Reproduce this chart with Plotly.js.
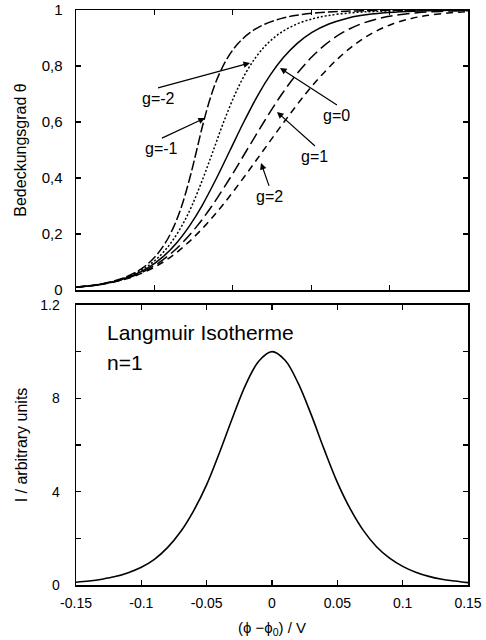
<!DOCTYPE html>
<html>
<head>
<meta charset="utf-8">
<script src="https://cdn.plot.ly/plotly-3.0.1.min.js"></script>
<style>html,body{margin:0;padding:0;background:#fff;}#chart{width:486px;height:640px;}</style>
</head>
<body>
<div id="chart"></div>
<script>
// Top panel: coverage theta (shared) and potential for each interaction parameter g
const theta = [0.01,0.02,0.03,0.05,0.08,0.12,0.17,0.23,0.3,0.4,0.5,0.6,0.7,0.77,0.83,0.88,0.92,0.95,0.97,0.98,0.99,0.995,0.998,0.999,0.9995,0.9999];
const xGm2 = [-0.1503,-0.1328,-0.1226,-0.1101,-0.0987,-0.0893,-0.0814,-0.0748,-0.0691,-0.0629,-0.0576,-0.0524,-0.0462,-0.0405,-0.0339,-0.0260,-0.0166,-0.0052,0.0074,0.0175,0.0350,0.0527,0.0761,0.0939,0.1116,0.1529];
const xGm1 = [-0.1501,-0.1323,-0.1219,-0.1088,-0.0967,-0.0862,-0.0771,-0.0689,-0.0614,-0.0527,-0.0448,-0.0370,-0.0282,-0.0207,-0.0126,-0.0035,0.0070,0.0191,0.0322,0.0427,0.0604,0.0782,0.1017,0.1195,0.1373,0.1786];
const xG0  = [-0.1498,-0.1318,-0.1211,-0.1075,-0.0946,-0.0831,-0.0727,-0.0630,-0.0537,-0.0424,-0.0320,-0.0216,-0.0103,-0.0010,0.0087,0.0191,0.0306,0.0435,0.0571,0.0678,0.0858,0.1037,0.1273,0.1451,0.1629,0.2042];
const xG1  = [-0.1495,-0.1313,-0.1203,-0.1062,-0.0925,-0.0800,-0.0683,-0.0571,-0.0460,-0.0321,-0.0192,-0.0062,0.0076,0.0187,0.0300,0.0417,0.0542,0.0679,0.0820,0.0929,0.1112,0.1292,0.1529,0.1707,0.1885,0.2298];
const xG2  = [-0.1493,-0.1308,-0.1196,-0.1049,-0.0905,-0.0769,-0.0640,-0.0512,-0.0383,-0.0219,-0.0064,0.0092,0.0256,0.0385,0.0513,0.0642,0.0778,0.0922,0.1068,0.1181,0.1366,0.1547,0.1785,0.1963,0.2142,0.2555];
const gLabels = ["g=-2","g=-1","g=0","g=1","g=2"];

// Bottom panel: Langmuir current peak
const potential = [-0.15,-0.14,-0.13,-0.12,-0.11,-0.10,-0.09,-0.08,-0.07,-0.06,-0.05,-0.04,-0.03,-0.02,-0.01,0,0.01,0.02,0.03,0.04,0.05,0.06,0.07,0.08,0.09,0.10,0.11,0.12,0.13,0.14,0.15];
const current = [0.12,0.17,0.25,0.36,0.53,0.76,1.1,1.6,2.28,3.18,4.3,5.7,7.2,8.6,9.6,10,9.63,8.65,7.3,5.8,4.4,3.25,2.33,1.64,1.15,0.8,0.55,0.37,0.25,0.17,0.1];

// Tick labels
const thetaTicks = [0,0.2,0.4,0.6,0.8,1];
const thetaTickText = ["0","0,2","0,4","0,6","0,8","1"];
const iTicks = [0,4,8,12];
const iTickText = ["0","4","8","1.2"];
const iMinorTicks = [2,6,10];
const potTicks = [-0.15,-0.1,-0.05,0,0.05,0.1,0.15];
const potTickText = ["-0.15","-0.1","-0.05","0","0.05","0.1","0.15"];

const font = "Liberation Sans, Arial, Helvetica, sans-serif";
const lw = 1.5;
const traces = [
  {x:xGm2, y:theta, mode:"lines", line:{color:"#000",width:lw,dash:"10px,3px",shape:"spline"}, xaxis:"x", yaxis:"y", name:gLabels[0]},
  {x:xGm1, y:theta, mode:"lines", line:{color:"#000",width:lw,dash:"2px,2px",shape:"spline"}, xaxis:"x", yaxis:"y", name:gLabels[1]},
  {x:xG0,  y:theta, mode:"lines", line:{color:"#000",width:lw,shape:"spline"}, xaxis:"x", yaxis:"y", name:gLabels[2]},
  {x:xG1,  y:theta, mode:"lines", line:{color:"#000",width:lw,dash:"12px,5px",shape:"spline"}, xaxis:"x", yaxis:"y", name:gLabels[3]},
  {x:xG2,  y:theta, mode:"lines", line:{color:"#000",width:lw,dash:"7px,5px",shape:"spline"}, xaxis:"x", yaxis:"y", name:gLabels[4]},
  {x:potential, y:current, mode:"lines", line:{color:"#000",width:1.6,shape:"spline"}, xaxis:"x2", yaxis:"y2", name:"Langmuir"}
];

const axBase = {showline:true, linecolor:"#000", linewidth:1.5, mirror:"ticks", ticks:"inside", ticklen:5, tickwidth:1.2, tickcolor:"#000", showgrid:false, zeroline:false, tickfont:{family:font,size:14,color:"#000"}};

// labels with arrows: arrow head at data point, label hangs below the arrow tail (px offset)
const arrowHeads = [[-0.0168,0.811],[-0.0513,0.614],[0.0061,0.793],[0.0038,0.636],[-0.0084,0.454]];
const tailOffsets = [[-92,25],[-43,20],[57,37],[38,34],[8,23]];
const annotations = [];
arrowHeads.forEach(function(a,i){
  annotations.push({xref:"x",yref:"y",x:a[0],y:a[1],ax:tailOffsets[i][0],ay:tailOffsets[i][1],
    text:gLabels[i],xanchor:"center",yanchor:"top",showarrow:true,arrowhead:2,arrowsize:1.1,arrowwidth:1.2,arrowcolor:"#000",
    font:{family:font,size:16,color:"#000"}});
});
annotations.push({xref:"x2",yref:"y2",x:-0.128,y:10.8,xanchor:"left",text:"Langmuir Isotherme",showarrow:false,font:{family:font,size:21,color:"#000"}});
annotations.push({xref:"x2",yref:"y2",x:-0.128,y:9.55,xanchor:"left",text:"n=1",showarrow:false,font:{family:font,size:21,color:"#000"}});

const layout = {
  width:486, height:640,
  margin:{l:76,r:18,t:10,b:55},
  paper_bgcolor:"#fff", plot_bgcolor:"#fff",
  showlegend:false,
  font:{family:font,color:"#000"},
  xaxis:Object.assign({}, axBase, {domain:[0,1], anchor:"y", range:[-0.15,0.15], tickvals:[-0.09,-0.03,0.03,0.09], showticklabels:false}),
  yaxis:Object.assign({}, axBase, {domain:[0.513,1], anchor:"x", range:[0,1], tickvals:thetaTicks, ticktext:thetaTickText, tickfont:{family:font,size:15,color:"#000"}, ticklabelstandoff:9,
    title:{text:"Bedeckungsgrad θ", font:{family:font,size:16,color:"#000"}, standoff:11}}),
  xaxis2:Object.assign({}, axBase, {domain:[0,1], anchor:"y2", range:[-0.15,0.15], tickvals:potTicks, ticktext:potTickText, ticklabelstandoff:5,
    title:{text:"(ϕ −ϕ<sub>0</sub>) / V", font:{family:font,size:15,color:"#000"}, standoff:12}}),
  yaxis2:Object.assign({}, axBase, {domain:[0,0.487], anchor:"x2", range:[0,12], tickvals:iTicks, ticktext:iTickText, ticklabelstandoff:12,
    minor:{tickmode:"array", tickvals:iMinorTicks, ticks:"inside", ticklen:5, tickwidth:1.2, tickcolor:"#000"},
    title:{text:"I / arbitrary units", font:{family:font,size:16,color:"#000"}, standoff:8}}),
  annotations:annotations
};

Plotly.newPlot("chart", traces, layout, {displayModeBar:false, staticPlot:true});
</script>
</body>
</html>
